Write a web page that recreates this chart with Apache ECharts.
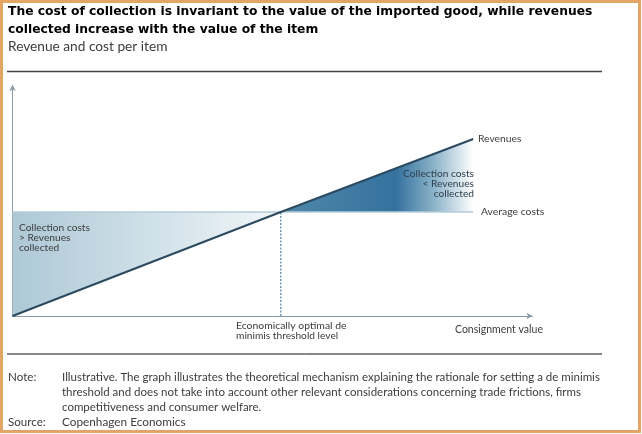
<!DOCTYPE html>
<html>
<head>
<meta charset="utf-8">
<style>html,body{margin:0;padding:0;background:#fff}#chart{width:642px;height:434px}</style>
<script src="https://cdn.jsdelivr.net/npm/echarts@6/dist/echarts.min.js"></script>
</head>
<body>
<div id="chart"></div>
<script>
// values, in axis units (0-100 on both axes)
const revenueLine = [[0, 0], [51.6, 45], [88.6, 76.6]];
const costLine = [[0, 45], [88.6, 45]];
const thresholdLine = [[51.6, 0], [51.6, 45]];
const lossArea = [[0, 0], [51.6, 45], [0, 45]];
const gainArea = [[51.6, 45], [88.6, 76.6], [88.6, 45]];

const titleLines = [
  "The cost of collection is invariant to the value of the imported good, while revenues",
  "collected increase with the value of the item"
];
const subtitle = "Revenue and cost per item";
const noteLines = [
  "Illustrative. The graph illustrates the theoretical mechanism explaining the rationale for setting a de minimis",
  "threshold and does not take into account other relevant considerations concerning trade frictions, firms",
  "competitiveness and consumer welfare."
];
const sourceText = "Copenhagen Economics";

const sansFont = "Lato";
const myChart = echarts.init(document.getElementById("chart"), null, { renderer: "canvas" });

function polygonSeries(points, stops) {
  return {
    type: "custom",
    silent: true,
    coordinateSystem: "cartesian2d",
    data: [0],
    z: 1,
    renderItem: (params, api) => ({
      type: "polygon",
      shape: { points: points.map(p => api.coord(p)) },
      style: { fill: new echarts.graphic.LinearGradient(0, 0, 1, 0, stops) }
    })
  };
}

function txt(x, y, text, size, opts) {
  return {
    type: "text", x: x, y: y, z: 10, silent: true,
    style: Object.assign({
      text: text, fontSize: size, fontFamily: sansFont, fill: "#3c3c3c",
      verticalAlign: "middle"
    }, opts || {})
  };
}

const option = {
  animation: false,
  backgroundColor: "#fff",
  grid: { left: 12.5, top: 85, width: 520, height: 231 },
  xAxis: {
    type: "value", min: 0, max: 100,
    axisLine: { show: true, onZero: false, symbol: ["none", "arrow"], symbolSize: [5, 6], lineStyle: { color: "#8a9aa6", width: 1 } },
    axisTick: { show: false }, axisLabel: { show: false }, splitLine: { show: false }
  },
  yAxis: {
    type: "value", min: 0, max: 100,
    axisLine: { show: true, onZero: false, symbol: ["none", "arrow"], symbolSize: [5, 6], lineStyle: { color: "#8a9aa6", width: 1 } },
    axisTick: { show: false }, axisLabel: { show: false }, splitLine: { show: false }
  },
  series: [
    polygonSeries(lossArea, [
      { offset: 0, color: "#adc8d6" },
      { offset: 0.5, color: "#cfe0e8" },
      { offset: 1, color: "#f2f6f9" }
    ]),
    polygonSeries(gainArea, [
      { offset: 0, color: "#4f87a9" },
      { offset: 0.6, color: "#35729f" },
      { offset: 0.8, color: "#8db4ca" },
      { offset: 1, color: "#ffffff" }
    ]),
    { type: "line", data: costLine, symbol: "none", silent: true, z: 2, lineStyle: { color: "#b4ccd9", width: 1.5 } },
    { type: "line", data: thresholdLine, symbol: "none", silent: true, z: 2, lineStyle: { color: "#4a7f9f", width: 1.2, type: [2, 1.5] } },
    { type: "line", data: revenueLine, symbol: "none", silent: true, z: 3, lineStyle: { color: "#2b4a60", width: 2 } }
  ],
  graphic: [
    { type: "rect", z: 20, silent: true, shape: { x: 1.5, y: 1.5, width: 638, height: 430 }, style: { fill: "none", stroke: "#e2a566", lineWidth: 3 } },
    { type: "line", z: 5, silent: true, shape: { x1: 7, y1: 71.5, x2: 602, y2: 71.5 }, style: { stroke: "#444", lineWidth: 1.3 } },
    { type: "line", z: 5, silent: true, shape: { x1: 7, y1: 354, x2: 602, y2: 354 }, style: { stroke: "#111", lineWidth: 1 } },
    txt(8, 12, titleLines[0], 12.3, { fontFamily: "DejaVu Sans", fontWeight: "bold", fill: "#000" }),
    txt(8, 30, titleLines[1], 12.3, { fontFamily: "DejaVu Sans", fontWeight: "bold", fill: "#000" }),
    txt(8, 47, subtitle, 13.7),
    txt(478, 139, "Revenues", 10.3),
    txt(481, 212, "Average costs", 10.4),
    txt(474, 174, "Collection costs", 10.2, { align: "right", fill: "#2f3f4c" }),
    txt(474, 184, "< Revenues", 10.2, { align: "right", fill: "#2f3f4c" }),
    txt(474, 194, "collected", 10.2, { align: "right", fill: "#2f3f4c" }),
    txt(19, 228, "Collection costs", 10.2),
    txt(19, 238, "> Revenues", 10.2),
    txt(19, 248, "collected", 10.2),
    txt(236, 326, "Economically optimal de", 10.4),
    txt(236, 336, "minimis threshold level", 10.2),
    txt(455, 330, "Consignment value", 10.5),
    txt(8, 377, "Note:", 11.6),
    txt(62, 377, noteLines[0], 11.5),
    txt(62, 392, noteLines[1], 11.5),
    txt(62, 407, noteLines[2], 11.5),
    txt(8, 422, "Source:", 11.6),
    txt(62, 422, sourceText, 11.8)
  ]
};

myChart.setOption(option);
</script>
</body>
</html>
